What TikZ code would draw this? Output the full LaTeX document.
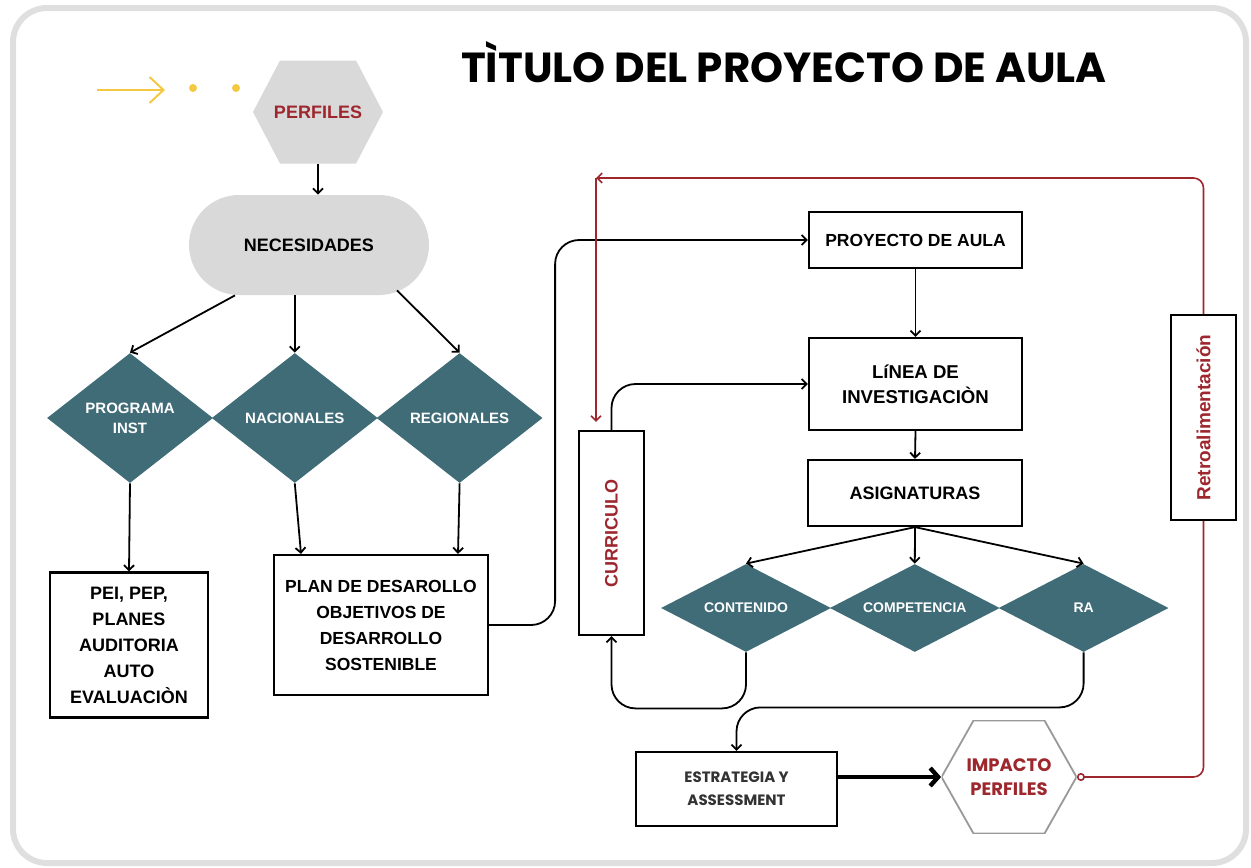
\documentclass[tikz,border=0pt]{standalone}
\usepackage{fontspec}
\setmainfont{Liberation Sans}
\newfontfamily\poppins{Poppins}
\usetikzlibrary{positioning,shapes.geometric,arrows.meta}
\definecolor{tealdia}{HTML}{406C78}
\definecolor{grayfill}{HTML}{D9D9D9}
\definecolor{darkred}{HTML}{9E262D}
\definecolor{yel}{HTML}{F5C842}

\begin{document}
\begin{tikzpicture}[x=0.5pt,y=-0.5pt,
    box/.style={draw,line width=1.1pt,fill=white,align=center,inner sep=0pt,
      font=\bfseries\fontsize{9}{13}\selectfont},
    dia/.style={diamond,aspect=1.3,fill=tealdia,text=white,align=center,inner sep=0pt,
      minimum width=83pt,minimum height=65pt,font=\bfseries\fontsize{7.5}{10}\selectfont},
    sdia/.style={dia,aspect=2,minimum width=85pt,minimum height=44pt,
      font=\bfseries\fontsize{7}{9}\selectfont},
    hexa/.style 2 args={inner sep=0pt,align=center,text=darkred,fill=white,
      path picture={\filldraw[#1] (path picture bounding box.west)
        -- ([xshift=#2]path picture bounding box.north west) -- ([xshift=-#2]path picture bounding box.north east)
        -- (path picture bounding box.east)
        -- ([xshift=-#2]path picture bounding box.south east) -- ([xshift=#2]path picture bounding box.south west) -- cycle;}},
    arr/.style={-{Straight Barb[length=2.5pt,width=5pt]},line width=0.9pt},
    fb/.style={darkred,line width=0.8pt},
  ]
    \useasboundingbox (0,0) rectangle (1251,867);
    \draw[gray!25,line width=3pt,rounded corners=17pt] (13,8) rectangle (1246,863);

    % title and the yellow mark
    \node[font=\poppins\bfseries\fontsize{21}{25}\selectfont] (title) at (784,62) {TÌTULO DEL PROYECTO DE AULA};
    \coordinate (ya) at (97,90);
    \coordinate (yb) at (165,90);
    \draw[yel,line width=1pt,-{Straight Barb[length=7pt,width=13pt]}] (ya) -- (yb);
    \fill[yel] (193,88) circle (2pt) (236,88) circle (2pt);

    % left side
    \node[hexa={fill=grayfill,draw=none}{13.5pt},minimum width=65pt,minimum height=51.5pt,
      font=\bfseries\fontsize{9}{11}\selectfont] (perf) at (318,112) {PERFILES};
    \node[fill=grayfill,rounded corners=25pt,minimum width=120pt,minimum height=50pt,
      font=\bfseries\fontsize{9}{11}\selectfont] (nec) at (309,245) {NECESIDADES};
    \node[dia] (prog) at (130,418) {PROGRAMA\\INST};
    \node[dia,right=-1pt of prog] (nac) {NACIONALES};
    \node[dia,right=-1pt of nac] (reg) {REGIONALES};
    \node[box,minimum width=79pt,minimum height=72.5pt] (pei) at (129,645) {PEI, PEP,\\PLANES\\AUDITORIA\\AUTO\\EVALUACIÒN};
    \node[box,minimum width=107pt,minimum height=70pt,font=\bfseries\fontsize{8.75}{13}\selectfont] (plan) at (381,625)
      {PLAN DE DESAROLLO\\OBJETIVOS DE\\DESARROLLO\\SOSTENIBLE};

    % right side
    \node[box,minimum width=106.5pt,minimum height=28pt,font=\bfseries\fontsize{8.75}{11}\selectfont] (proy) at (915.5,240) {PROYECTO DE AULA};
    \node[box,minimum width=106.5pt,minimum height=46pt,font=\bfseries\fontsize{9.3}{12.5}\selectfont] (lin) at (915.5,384) {LíNEA DE\\INVESTIGACIÒN};
    \node[box,minimum width=107pt,minimum height=33pt] (asig) at (915,493) {ASIGNATURAS};
    \node[sdia] (cont) at (746,608) {CONTENIDO};
    \node[sdia,right=-1pt of cont] (comp) {COMPETENCIA};
    \node[sdia,right=-1pt of comp] (ra) {RA};
    \node[box,minimum width=32.5pt,minimum height=102pt] (curr) at (611.5,533) {};
    \node[rotate=90,text=darkred,font=\bfseries\fontsize{9}{11}\selectfont] (currtxt) at (curr) {CURRICULO};
    \node[box,line width=0.9pt,minimum width=32.5pt,minimum height=102.5pt] (retro) at (1203.5,417.5) {};
    \node[rotate=90,text=darkred,font=\bfseries\fontsize{9.5}{11}\selectfont] (retrotxt) at (retro) {Retroalimentación};
    \node[box,minimum width=100.5pt,minimum height=37pt,text=black!80,font=\poppins\bfseries\fontsize{7.5}{11.5}\selectfont] (estr) at (736.5,789)
      {ESTRATEGIA Y\\ASSESSMENT};
    \node[hexa={fill=white,draw=gray!80,line width=0.9pt}{16pt},minimum width=67.5pt,minimum height=56.5pt,
      font=\poppins\bfseries\fontsize{9}{12}\selectfont] (imp) at (1009,777) {IMPACTO\\PERFILES};

    % connectors
    \draw[arr] (perf.south) -- (perf.south |- nec.north);
    \draw[arr] ([xshift=-37pt]nec.south) -- (prog.north);
    \draw[arr] (nac.north |- nec.south) -- (nac.north);
    \draw[arr] ([xshift=44pt,yshift=2.5pt]nec.south) -- (reg.north);
    \draw[arr] (prog.south) -- (pei.north);
    \draw[arr] (nac.south) -- ([xshift=-40pt]plan.north);
    \draw[arr] (reg.south) -- ([xshift=38.5pt]plan.north);
    \draw[arr,rounded corners=12pt] (plan.east) -- ++(66,0) |- (proy.west);
    \draw[arr] (proy.south) -- (lin.north);
    \draw[arr] (lin.south) -- (asig.north);
    \draw[arr] (asig.south) -- (cont.north);
    \draw[arr] (asig.south) -- (comp.north);
    \draw[arr] (asig.south) -- (ra.north);
    \draw[arr,rounded corners=12pt] (curr.north) |- (lin.west);
    \draw[arr,rounded corners=12pt] (cont.south) -- ++(0,56) -| (curr.south);
    \draw[arr,rounded corners=12pt] (ra.south) -- ++(0,55) -| (estr.north);
    \draw[line width=2.2pt,-{Straight Barb[length=4pt,width=9pt]}] (estr.east |- imp.west) -- (imp.west);

    % feedback loop
    \coordinate (fbc) at (596,178);
    \draw[fb,rounded corners=5pt,{Circle[open,length=4pt]}-] (imp.east) -| (retro.south);
    \draw[fb,rounded corners=5pt,-{Straight Barb[length=2.5pt,width=5pt]}] (retro.north) |- (fbc);
    \draw[fb,shorten >=4pt,-{Straight Barb[length=2.5pt,width=5pt]}] (fbc) -- (fbc |- curr.north);
\end{tikzpicture}
\end{document}
